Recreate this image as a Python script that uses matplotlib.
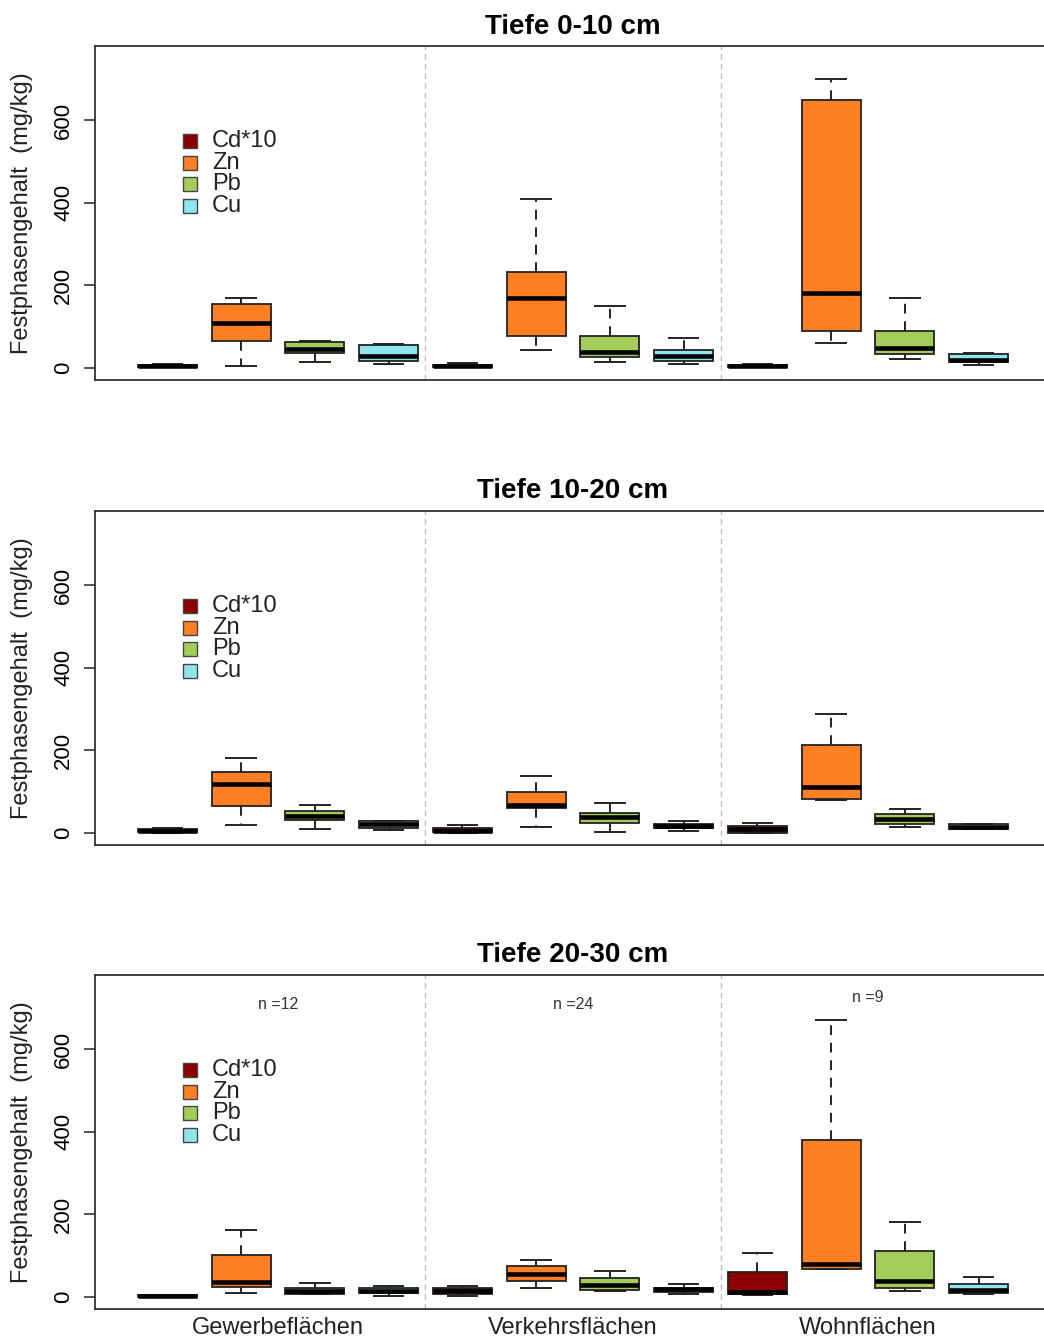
import matplotlib
matplotlib.use("Agg")
import matplotlib.pyplot as plt
from matplotlib.patches import Rectangle

plt.rcParams['font.family'] = ['Liberation Sans', 'DejaVu Sans']

depths = ["Tiefe 0-10 cm", "Tiefe 10-20 cm", "Tiefe 20-30 cm"]
sites = ["Gewerbeflächen", "Verkehrsflächen", "Wohnflächen"]
metals = ["Cd*10", "Zn", "Pb", "Cu"]
colors = ["#8B0000", "#FF7F24", "#A2CD5A", "#8EE5EE"]
n_labels = ["n =12", "n =24", "n =9"]
n_label_y = [708, 708, 725]

# order within each depth: G-Cd, G-Zn, G-Pb, G-Cu, V-Cd, ..., W-Cu
d1_lo  = [1, 3, 13, 10,   1, 42, 13, 10,   1, 59, 22, 6]
d1_q1  = [2, 64, 35, 16,  2, 77, 26, 16,   2, 88, 32, 14]
d1_med = [4, 109, 46, 29, 4, 170, 39, 29,  4, 180, 47, 19]
d1_q3  = [7, 155, 61, 54, 7, 232, 77, 42,  6, 649, 90, 33]
d1_hi  = [9, 168, 64, 58, 11, 408, 149, 71, 8, 699, 168, 35]

d2_lo  = [0, 18, 8, 7,    0, 14, 2, 5,     0, 79, 14, 9]
d2_q1  = [1, 64, 31, 11,  1, 60, 24, 11,   0, 81, 20, 10]
d2_med = [5, 119, 41, 21, 5, 68, 37, 17,   10, 111, 33, 14]
d2_q3  = [10, 147, 53, 27, 11, 98, 47, 22, 16, 212, 45, 21]
d2_hi  = [12, 180, 68, 29, 18, 138, 72, 27, 24, 287, 57, 22]

d3_lo  = [0, 10, 6, 2,    2, 22, 13, 6,    3, 67, 13, 7]
d3_q1  = [0, 23, 7, 9,    6, 39, 15, 12,   6, 68, 22, 8]
d3_med = [1, 35, 13, 14,  13, 55, 28, 18,  12, 80, 38, 15]
d3_q3  = [3, 101, 22, 22, 20, 75, 45, 22,  59, 379, 110, 30]
d3_hi  = [4, 162, 32, 25, 26, 88, 61, 30,  107, 671, 181, 48]

depth_data = [
    (d1_lo, d1_q1, d1_med, d1_q3, d1_hi),
    (d2_lo, d2_q1, d2_med, d2_q3, d2_hi),
    (d3_lo, d3_q1, d3_med, d3_q3, d3_hi),
]

W, H = 1044, 1340
fig = plt.figure(figsize=(W / 100, H / 100), dpi=100)

ax_left = 95 / W
ax_width = (1051 - 95) / W
ax_height = 334 / H
ax_bottoms = [1 - 380 / H, 1 - 845 / H, 1 - 1309 / H]

n_per = len(metals)
positions = list(range(1, len(sites) * n_per + 1))
edge = "#222222"

for k, (title, data) in enumerate(zip(depths, depth_data)):
    ax = fig.add_axes([ax_left, ax_bottoms[k], ax_width, ax_height])
    lo, q1, med, q3, hi = data
    stats = []
    for i in range(len(positions)):
        stats.append(dict(whislo=lo[i], q1=q1[i], med=med[i], q3=q3[i], whishi=hi[i], fliers=[]))
    bp = ax.bxp(stats, positions=positions, widths=0.8, patch_artist=True,
                showfliers=False, capwidths=0.4,
                boxprops=dict(edgecolor=edge, linewidth=1.3),
                whiskerprops=dict(color=edge, linewidth=1.4, linestyle=(0, (5, 4))),
                capprops=dict(color=edge, linewidth=1.4),
                medianprops=dict(color="black", linewidth=3.3, solid_capstyle="butt"))
    for i, patch in enumerate(bp["boxes"]):
        patch.set_facecolor(colors[i % n_per])

    for s in range(1, len(sites)):
        ax.axvline(s * n_per + 0.5, color="#BEBEBE", linewidth=1.0, linestyle=(0, (4, 3)), zorder=0)

    ax.set_xlim(0.02, 12.98)
    ax.set_ylim(-30, 780)
    ax.set_yticks([0, 200, 400, 600])
    ax.set_yticklabels(["0", "200", "400", "600"], rotation=90, va="center", fontsize=16)
    ax.tick_params(axis="y", length=8, width=1.2, pad=7, color="#333333")
    for sp in ax.spines.values():
        sp.set_color("#333333")
        sp.set_linewidth(1.3)

    centers = [(s * n_per) + (n_per + 1) / 2 for s in range(len(sites))]
    if k == 2:
        ax.set_xticks(centers)
        ax.set_xticklabels(sites, fontsize=17, color="#222222")
        ax.tick_params(axis="x", length=0, pad=6)
        for c, lab, yy in zip(centers, n_labels, n_label_y):
            ax.text(c, yy, lab, ha="center", va="center", fontsize=11.5, color="#333333")
    else:
        ax.set_xticks([])

    ax.set_title(title, fontsize=20, fontweight="bold", pad=9)
    ax.set_ylabel("Festphasengehalt  (mg/kg)", fontsize=17, color="#222222")
    ax.yaxis.set_label_coords(-0.065, 0.5)

    # legend (R style, no frame)
    x_sq = (183 - 95) / 956
    sq_w = 14 / 956
    sq_h = 14 / 334
    x_txt = (212 - 95) / 956
    y0 = (380 - 141) / 334
    dy = 21.7 / 334
    for i, (m, c) in enumerate(zip(metals, colors)):
        yc = y0 - i * dy
        ax.add_patch(Rectangle((x_sq, yc - sq_h / 2), sq_w, sq_h, transform=ax.transAxes,
                               facecolor=c, edgecolor="#444444", linewidth=1.0, clip_on=False))
        ax.text(x_txt, yc, m, transform=ax.transAxes, ha="left", va="center",
                fontsize=17, color="#222222")

fig.savefig("out.png", dpi=100)
